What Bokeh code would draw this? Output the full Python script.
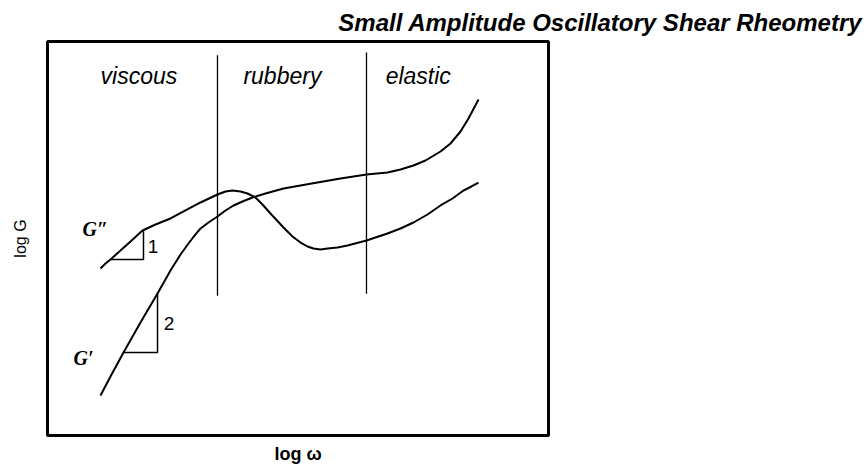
from bokeh.plotting import figure
from bokeh.models import Label, FixedTicker
from bokeh.embed import file_html
from bokeh.resources import INLINE

# schematic data units: x = log(omega) 0..100, y = log(G) 0..100
# G'' (loss modulus)
gpp_x = [10.58, 11.58, 12.57, 14.57, 16.57, 18.96, 21.56, 24.55, 27.54, 30.54,
         33.93, 35.53, 36.93, 38.52, 39.92, 41.52, 42.91, 44.51, 47.11, 48.90,
         50.50, 51.90, 53.09, 54.49, 55.89, 57.88, 59.88, 63.67, 67.86, 70.46,
         73.05, 75.85, 78.44, 80.84, 83.03, 84.63, 86.03]
gpp_y = [42.39, 43.65, 44.67, 46.95, 49.24, 52.03, 53.55, 55.08, 57.11, 59.14,
         61.17, 61.93, 62.18, 61.93, 61.42, 60.41, 58.63, 56.35, 52.79, 50.51,
         48.98, 47.97, 47.46, 47.21, 47.46, 47.72, 48.22, 49.49, 51.27, 52.54,
         54.06, 56.09, 58.38, 60.15, 62.18, 63.20, 64.21]
# G' (storage modulus)
gp_x = [10.58, 12.57, 15.17, 18.56, 21.96, 24.55, 26.55, 28.14, 29.54, 30.54,
        32.14, 33.93, 35.53, 37.13, 38.92, 40.92, 43.51, 47.11, 50.50, 53.89,
        58.48, 63.67, 67.86, 70.46, 73.05, 75.45, 78.44, 80.44, 82.44, 84.03, 86.03]
gp_y = [10.15, 14.97, 21.07, 28.68, 36.04, 41.88, 45.94, 48.73, 51.02, 52.54,
        54.06, 55.58, 57.11, 58.38, 59.39, 60.41, 61.42, 62.69, 63.45, 64.21,
        65.23, 66.24, 66.75, 67.51, 68.53, 69.80, 72.08, 74.11, 77.16, 80.46, 85.28]

region_x = [33.93, 63.67]          # boundaries between regimes
region_y0 = [35.5, 36.0]
region_y1 = [96.5, 97.2]
region_names = ["viscous", "rubbery", "elastic"]
region_label_x = [10.6, 39.1, 67.5]
region_label_y = 88.0

# slope triangles: (x0, x1, y0, y1)
tri1 = (12.57, 19.16, 44.67, 52.03)   # G'' slope 1
tri2 = (15.17, 21.96, 21.07, 36.04)   # G' slope 2

p = figure(width=867, height=469, x_range=(0, 100), y_range=(0, 100),
           output_backend="svg", toolbar_location=None,
           min_border_left=47, min_border_right=319, min_border_top=41,
           min_border_bottom=34)
p.background_fill_color = "white"
p.border_fill_color = "white"
p.grid.visible = False
p.outline_line_color = "black"
p.outline_line_width = 3
p.outline_line_alpha = 1.0

for ax in (p.xaxis, p.yaxis):
    ax.ticker = FixedTicker(ticks=[])
    ax.axis_line_color = None
    ax.major_tick_line_color = None
    ax.minor_tick_line_color = None
    ax.major_label_text_font_size = "0px"
    ax.major_label_standoff = 0
    ax.axis_label_text_font = "Liberation Sans"
    ax.axis_label_text_color = "black"

p.xaxis.axis_label = "log ω"
p.xaxis.axis_label_text_font_style = "bold"
p.xaxis.axis_label_text_font_size = "18px"
p.xaxis.axis_label_standoff = 8
p.yaxis.axis_label = "log G"
p.yaxis.axis_label_text_font_style = "normal"
p.yaxis.axis_label_text_font_size = "16px"
p.yaxis.axis_label_standoff = 19

# chart title, right-aligned near the page's right side
p.title.text = "Small Amplitude Oscillatory Shear Rheometry"
p.title.align = "right"
p.title.offset = -314
p.title.text_font = "Liberation Sans"
p.title.text_font_style = "bold italic"
p.title.text_font_size = "24px"
p.title.text_color = "black"
p.title.standoff = 12

# curves
p.line(gpp_x, gpp_y, line_color="black", line_width=2)
p.line(gp_x, gp_y, line_color="black", line_width=2)

# regime boundaries
p.segment(x0=region_x, y0=region_y0, x1=region_x, y1=region_y1,
          line_color="black", line_width=1.3)

# slope triangles (legs)
for (x0, x1, y0, y1) in (tri1, tri2):
    p.line([x0, x1, x1], [y0, y0, y1], line_color="black", line_width=1.5)

for name, lx in zip(region_names, region_label_x):
    p.add_layout(Label(x=lx, y=region_label_y, text=name,
                       text_font="Liberation Sans", text_font_style="italic",
                       text_font_size="23px", text_color="black"))

p.add_layout(Label(x=7.0, y=49.5, text="G\u2033", text_font="Liberation Serif",
                   text_font_style="bold italic", text_font_size="20px",
                   text_color="black"))
p.add_layout(Label(x=5.2, y=16.8, text="G\u2032", text_font="Liberation Serif",
                   text_font_style="bold italic", text_font_size="20px",
                   text_color="black"))
p.add_layout(Label(x=20.0, y=46.2, text="1", text_font="Liberation Sans",
                   text_font_size="19px", text_color="black"))
p.add_layout(Label(x=23.2, y=26.7, text="2", text_font="Liberation Sans",
                   text_font_size="19px", text_color="black"))

open("out.html", "w").write(file_html(p, INLINE))
